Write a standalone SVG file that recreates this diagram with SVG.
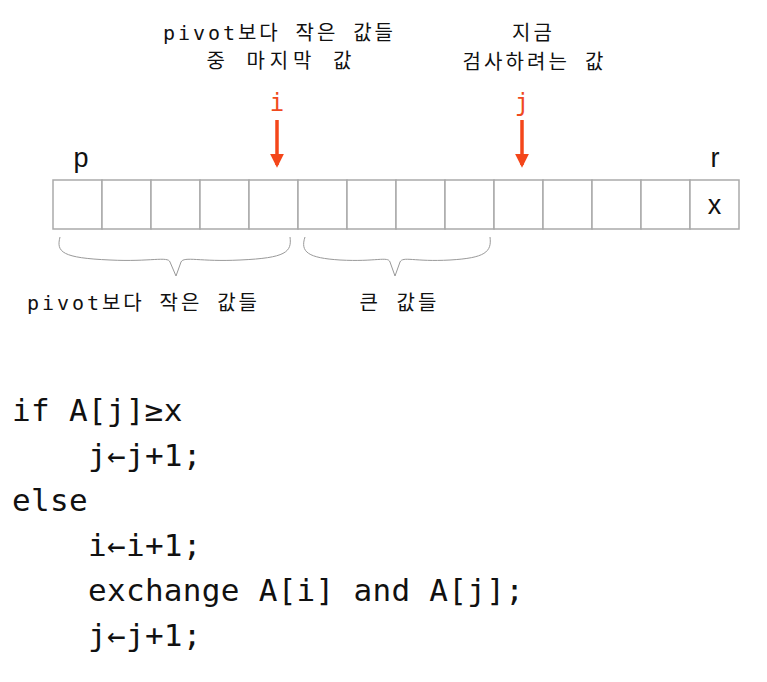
<svg xmlns="http://www.w3.org/2000/svg" width="767" height="682" viewBox="0 0 767 682">
<style>
.lbl{font-family:"DejaVu Sans Mono","Noto Sans CJK KR",monospace;font-size:20px;fill:#111;text-anchor:middle}
.idx{font-family:"DejaVu Sans Mono",monospace;font-size:24px;fill:#f04a1e;text-anchor:middle}
.let{font-family:"Liberation Sans",Arial,sans-serif;font-size:27px;fill:#111;text-anchor:middle}
.code{font-family:"DejaVu Sans Mono",monospace;font-size:31px;letter-spacing:0.3px;fill:#111}
.cell{fill:#fff;stroke:#aaa;stroke-width:1.5}
.brace{fill:none;stroke:#999;stroke-width:1}
</style>
<defs>
<marker id="ah" markerWidth="4" markerHeight="4" refX="3.2" refY="2" orient="auto" markerUnits="strokeWidth">
<path d="M0,0 L4,2 L0,4 Z" fill="#f4461a"/>
</marker>
</defs>
<rect width="767" height="682" fill="#fff"/>
<g id="label-i">
<text class="lbl" x="278" y="40" textLength="230" lengthAdjust="spacing">pivot보다 작은 값들</text>
<text class="lbl" x="279" y="68" textLength="145" lengthAdjust="spacing">중 마지막 값</text>
<text class="idx" x="277" y="111">i</text>
</g>
<g id="label-j">
<text class="lbl" x="532" y="40" textLength="40" lengthAdjust="spacing">지금</text>
<text class="lbl" x="533" y="69" textLength="141" lengthAdjust="spacing">검사하려는 값</text>
<text class="idx" x="522" y="111">j</text>
</g>
<g id="array">
<rect class="cell" x="53" y="180" width="49" height="49"/>
<rect class="cell" x="102" y="180" width="49" height="49"/>
<rect class="cell" x="151" y="180" width="49" height="49"/>
<rect class="cell" x="200" y="180" width="49" height="49"/>
<rect class="cell" x="249" y="180" width="49" height="49"/>
<rect class="cell" x="298" y="180" width="49" height="49"/>
<rect class="cell" x="347" y="180" width="49" height="49"/>
<rect class="cell" x="396" y="180" width="49" height="49"/>
<rect class="cell" x="445" y="180" width="49" height="49"/>
<rect class="cell" x="494" y="180" width="49" height="49"/>
<rect class="cell" x="543" y="180" width="49" height="49"/>
<rect class="cell" x="592" y="180" width="49" height="49"/>
<rect class="cell" x="641" y="180" width="49" height="49"/>
<rect class="cell" x="690" y="180" width="49" height="49"/>
<text class="let" x="714.5" y="214">x</text>
<text class="let" x="81" y="167">p</text>
<text class="let" x="715" y="167">r</text>
</g>
<g id="connectors">
<line x1="277" y1="120" x2="277" y2="165" stroke="#f4461a" stroke-width="3.5" marker-end="url(#ah)"/>
<line x1="522" y1="120" x2="522" y2="165" stroke="#f4461a" stroke-width="3.5" marker-end="url(#ah)"/>
<path class="brace" d="M60,237 C56,252 62,258 110,260 C150,262 168,256 170,262 L176,276 L181,262 C184,256 200,262 240,260 C286,258 292,252 290,237"/>
<path class="brace" d="M305,237 C300,252 308,258 340,260 C376,262 388,256 390,262 L395,276 L400,262 C403,256 414,262 450,260 C485,258 492,252 490,237"/>
</g>
<g id="bottom-labels">
<text class="lbl" x="142" y="310" textLength="230" lengthAdjust="spacing">pivot보다 작은 값들</text>
<text class="lbl" x="398" y="310" textLength="77" lengthAdjust="spacing">큰 값들</text>
</g>
<g id="code">
<text class="code" x="12" y="421">if A[j]≥x</text>
<text class="code" x="88" y="466">j←j+1;</text>
<text class="code" x="12" y="511">else</text>
<text class="code" x="88" y="556">i←i+1;</text>
<text class="code" x="88" y="601">exchange A[i] and A[j];</text>
<text class="code" x="88" y="646">j←j+1;</text>
</g>
</svg>
